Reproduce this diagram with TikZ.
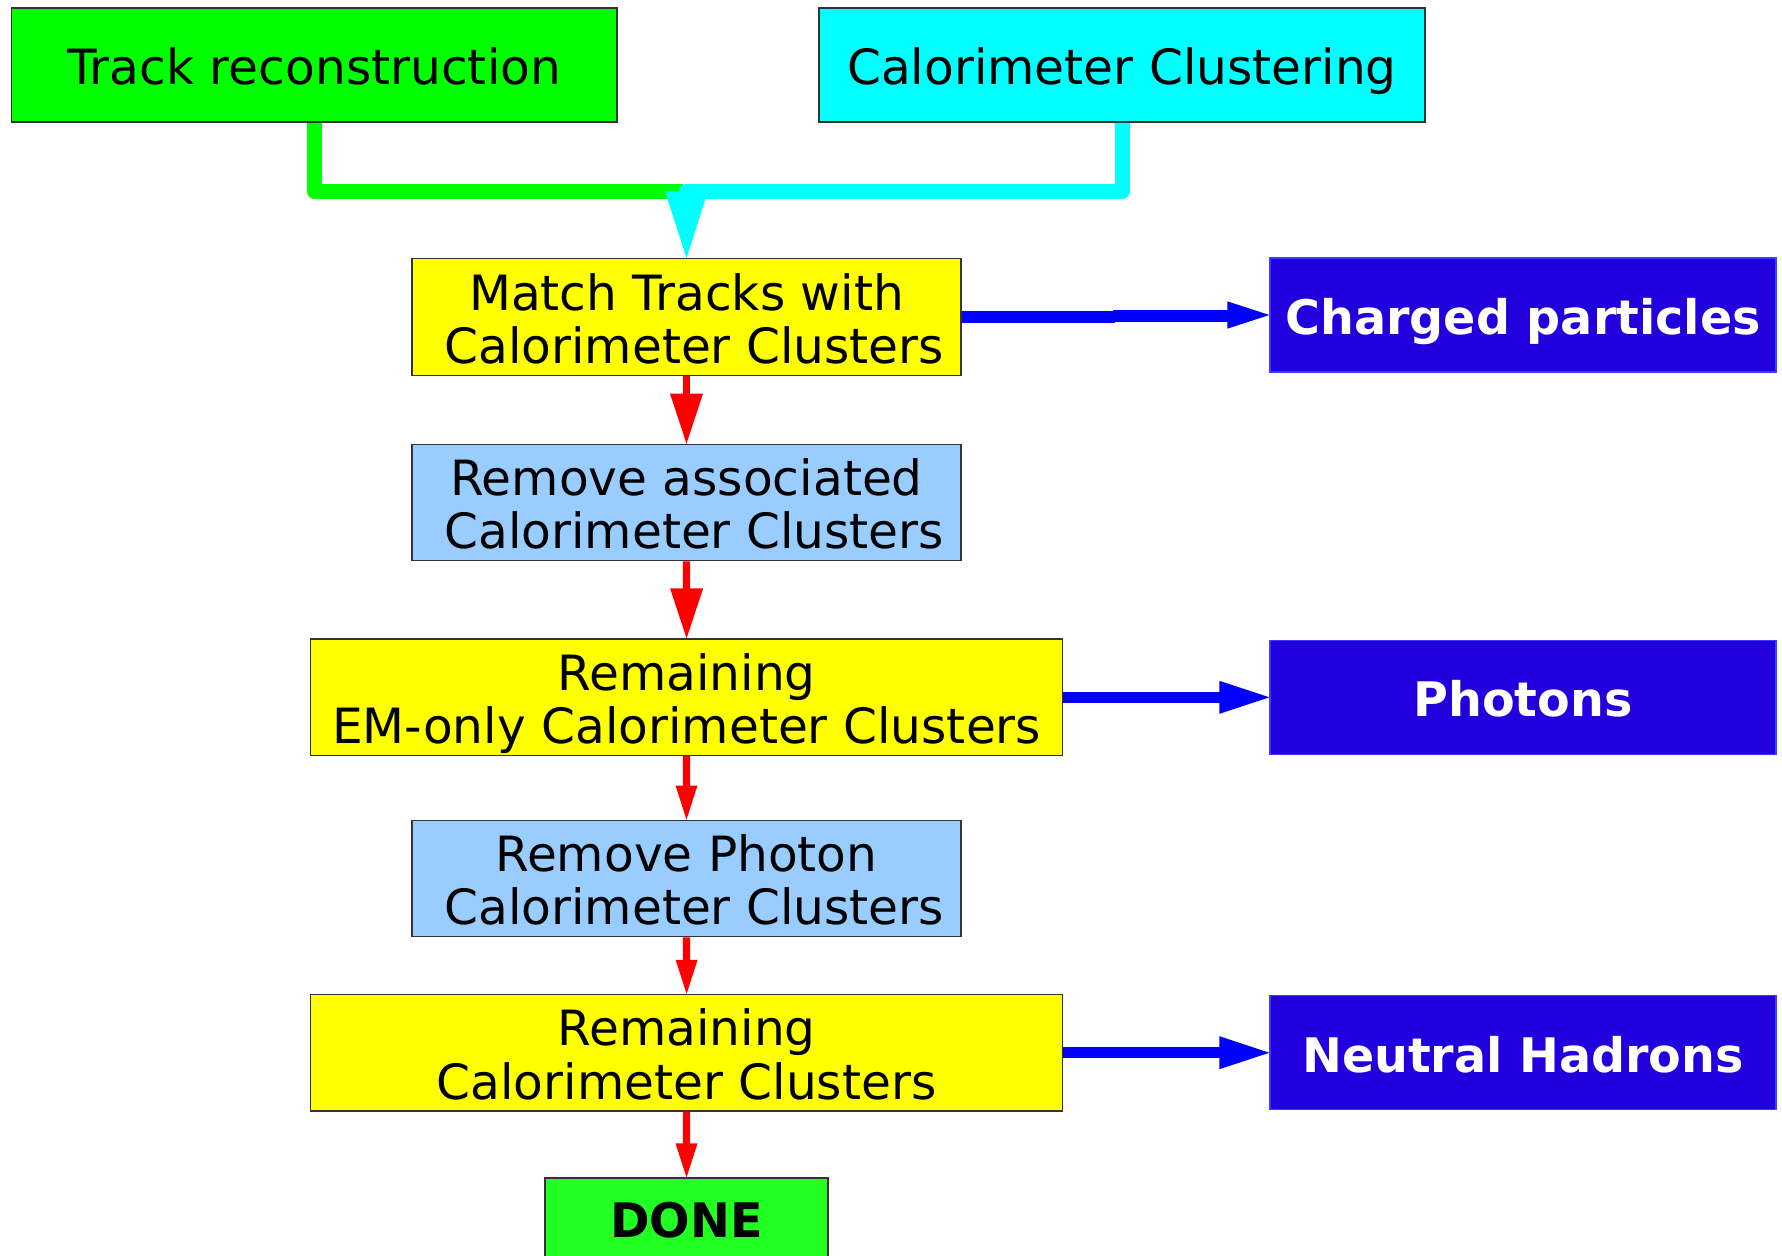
\documentclass[tikz,border=0pt]{standalone}
\usepackage{fontspec}
\setmainfont{DejaVu Sans}

\definecolor{trackgreen}{RGB}{0,255,0}
\definecolor{calcyan}{RGB}{0,255,255}
\definecolor{stepyellow}{RGB}{255,255,0}
\definecolor{removeblue}{RGB}{153,204,255}
\definecolor{outviolet}{RGB}{34,0,221}
\definecolor{outedge}{RGB}{60,60,255}
\definecolor{donegreen}{RGB}{34,255,34}
\definecolor{flowred}{RGB}{255,0,0}
\definecolor{flowblue}{RGB}{0,0,255}

% struts that fix the height of the first and the depth of the last text line
\newcommand\firstline{\rule{0pt}{25.65pt}}
\newcommand\lastline{\rule[-6pt]{0pt}{6pt}}

\begin{document}
\begin{tikzpicture}[x=0.5pt,y=-0.5pt,
  boxfont/.style={font=\fontsize{24.3pt}{26.65pt}\selectfont},
  boldfont/.style={font=\fontsize{23.8pt}{26.65pt}\selectfont\bfseries},
  box/.style={draw=black!80,line width=0.6pt,inner sep=0pt,boxfont},
  oneline/.style={text height=25pt,text depth=5.7pt},
  twoline/.style={align=center},
  stepbox/.style={box,fill=stepyellow,twoline,minimum height=57pt},
  removebox/.style={box,fill=removeblue,twoline,minimum width=274.5pt,minimum height=57pt},
  outbox/.style={box,draw=outedge,fill=outviolet,text=white,boldfont,oneline,
    minimum width=253pt,minimum height=57pt},
  feed/.style={line width=7.5pt,line join=round},
  redshaft/.style={draw=flowred,line width=3.6pt},
  blueshaft/.style={draw=flowblue,line width=5.7pt},
]
\useasboundingbox (0,0) rectangle (1782,1255);
\clip (0,0) rectangle (1782,1255);

% input stages
\node[box,fill=trackgreen,oneline,minimum width=302.8pt,minimum height=57pt]
  (track) at (314.2,65) {Track reconstruction};
\node[box,fill=calcyan,oneline,minimum width=303pt,minimum height=57pt]
  (cal) at (1122,65) {Calorimeter Clustering};

% main chain
\node[stepbox,minimum width=274.5pt] (match) at (686.5,317)
  {\firstline Match Tracks with\\\hspace*{0.32em}Calorimeter Clusters\lastline};
\node[removebox] (remassoc) at (686.5,502.5)
  {\firstline Remove associated\\\hspace*{0.32em}Calorimeter Clusters\lastline};
\node[stepbox,minimum width=376pt] (emonly) at (686.6,697.3)
  {\firstline Remaining\\EM-only Calorimeter Clusters\lastline};
\node[removebox] (remphot) at (686.5,878.4)
  {\firstline Remove Photon\\\hspace*{0.32em}Calorimeter Clusters\lastline};
\node[stepbox,minimum width=376pt] (remain) at (686.6,1052.7)
  {\firstline Remaining\\Calorimeter Clusters\lastline};
\node[box,fill=donegreen,oneline,boldfont,
  minimum width=141.5pt,minimum height=40pt] (done) at (686.5,1218) {DONE};

% outputs
\node[outbox] (charged) at (1523,315) {Charged particles};
\node[outbox] (photons) at (1523,697.3) {Photons};
\node[outbox] (neutral) at (1523,1052.7) {Neutral Hadrons};

% the two inputs merge into the matching step
\coordinate (merge) at (686.5,191);
\coordinate (cyanend) at (686.5,200);
\draw[feed,trackgreen] (track.south) |- ([xshift=-2pt]merge);
\draw[feed,calcyan] (cal.south) |- (merge) -- (cyanend);
\fill[calcyan] (match.north) -- ++(-21.5,-67) -- ++(43,0) -- cycle;

% red chain arrows
\draw[redshaft] (match.south) -- ([yshift=24.5pt]remassoc.north);
\fill[flowred] (remassoc.north) -- ++(-16.5,-50) -- ++(33,0) -- cycle;
\draw[redshaft] (remassoc.south) -- ([yshift=24.5pt]emonly.north);
\fill[flowred] (emonly.north) -- ++(-16.5,-50) -- ++(33,0) -- cycle;
\draw[redshaft] (emonly.south) -- ([yshift=16.5pt]remphot.north);
\fill[flowred] (remphot.north) -- ++(-11,-34) -- ++(22,0) -- cycle;
\draw[redshaft] (remphot.south) -- ([yshift=16.5pt]remain.north);
\fill[flowred] (remain.north) -- ++(-11,-34) -- ++(22,0) -- cycle;
\draw[redshaft] (remain.south) -- ([yshift=16.5pt]done.north);
\fill[flowred] (done.north) -- ++(-11,-34) -- ++(22,0) -- cycle;

% blue output arrows
\coordinate (jog) at (1115,316);
\coordinate (chgbase) at ([xshift=-20.5pt]charged.west);
\draw[blueshaft] (match.east) -- (match.east -| jog);
\draw[blueshaft] ([xshift=-1pt]jog) -- (chgbase |- jog);
\fill[flowblue] (charged.west) -- ++(-42,-13.65) -- ++(0,27.3) -- cycle;

\draw[blueshaft] (emonly.east) -- ([xshift=-24.5pt]photons.west);
\fill[flowblue] (photons.west) -- ++(-50,-16.5) -- ++(0,33) -- cycle;

\draw[blueshaft] (remain.east) -- ([xshift=-24.5pt]neutral.west);
\fill[flowblue] (neutral.west) -- ++(-50,-16.5) -- ++(0,33) -- cycle;
\end{tikzpicture}
\end{document}
